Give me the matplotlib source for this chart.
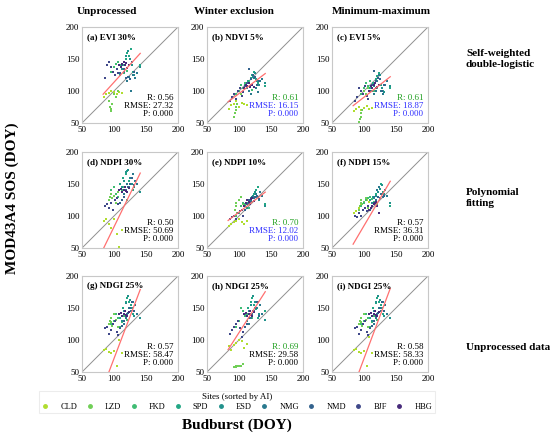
import numpy as np
import matplotlib
matplotlib.use('Agg')
import matplotlib.pyplot as plt
from matplotlib.lines import Line2D

plt.rcParams['font.family'] = ['Liberation Serif', 'DejaVu Serif']

sites = ['CLD', 'LZD', 'FKD', 'SPD', 'ESD', 'NMG', 'NMD', 'BJF', 'HBG']

# observed budburst (DOY), 8 site-years per site, same for every panel
budburst = {
    'CLD': [84, 88, 92, 96, 100, 104, 108, 112],
    'LZD': [92, 94, 95, 96, 97, 100, 103, 106],
    'FKD': [95, 100, 103, 106, 110, 113, 116, 120],
    'SPD': [110, 114, 118, 121, 124, 127, 130, 140],
    'ESD': [112, 116, 119, 122, 125, 128, 131, 141],
    'NMG': [115, 118, 121, 124, 127, 130, 133, 136],
    'NMD': [110, 113, 116, 119, 122, 125, 128, 131],
    'BJF': [86, 89, 92, 95, 98, 101, 104, 107],
    'HBG': [108, 111, 113, 115, 117, 119, 121, 123],
}

# MOD43A4 SOS per panel, site order as in `sites`
sos_a = [90, 95, 97, 100, 98, 96, 99, 97,
         85, 75, 68, 72, 80, 95, 90, 100,
         130, 138, 142, 145, 140, 135, 128, 132,
         125, 140, 150, 160, 155, 165, 130, 140,
         135, 145, 155, 162, 150, 140, 125, 138,
         130, 120, 115, 122, 100, 125, 120, 128,
         128, 140, 135, 120, 122, 118, 145, 130,
         120, 140, 145, 138, 130, 125, 135, 128,
         140, 138, 142, 145, 140, 143, 136, 141]
sos_b = [72, 78, 80, 85, 75, 82, 80, 78,
         60, 65, 70, 75, 80, 100, 95, 105,
         95, 100, 110, 105, 112, 108, 115, 102,
         110, 115, 120, 125, 130, 118, 112, 108,
         105, 112, 118, 122, 128, 115, 110, 112,
         100, 95, 110, 120, 105, 98, 115, 118,
         108, 112, 135, 118, 125, 122, 110, 115,
         85, 90, 95, 88, 100, 105, 92, 98,
         105, 110, 108, 112, 106, 110, 109, 107]
sos_c = [68, 72, 75, 70, 73, 76, 72, 74,
         52, 56, 60, 65, 70, 100, 95, 105,
         95, 105, 112, 108, 115, 110, 100, 105,
         105, 112, 118, 124, 128, 110, 100, 105,
         100, 108, 115, 120, 125, 105, 98, 108,
         95, 100, 115, 125, 100, 95, 110, 115,
         100, 110, 132, 115, 120, 118, 100, 110,
         85, 90, 105, 100, 95, 108, 92, 88,
         100, 108, 105, 110, 112, 104, 107, 109]
sos_d = [92, 95, 88, 82, 95, 72, 52, 78,
         125, 130, 135, 140, 128, 132, 120, 138,
         140, 145, 135, 130, 150, 140, 145, 125,
         150, 160, 165, 170, 155, 160, 140, 138,
         145, 155, 168, 172, 160, 150, 145, 137,
         135, 140, 150, 145, 160, 165, 155, 150,
         120, 125, 130, 140, 145, 150, 160, 148,
         115, 118, 112, 120, 110, 125, 128, 118,
         140, 142, 138, 141, 145, 139, 137, 143]
sos_e = [85, 88, 90, 92, 95, 90, 88, 92,
         100, 110, 115, 120, 105, 125, 130, 118,
         100, 105, 115, 120, 118, 125, 112, 122,
         115, 120, 125, 130, 135, 140, 145, 118,
         112, 118, 128, 132, 138, 130, 125, 115,
         120, 125, 130, 128, 135, 130, 138, 132,
         110, 118, 125, 122, 128, 130, 132, 126,
         95, 98, 100, 96, 105, 108, 110, 100,
         115, 120, 125, 122, 118, 126, 128, 124]
sos_f = [105, 108, 112, 118, 120, 125, 122, 115,
         110, 115, 120, 125, 118, 122, 128, 112,
         115, 120, 125, 128, 130, 126, 122, 118,
         125, 130, 135, 140, 145, 150, 138, 115,
         120, 128, 132, 138, 142, 148, 135, 120,
         130, 125, 140, 145, 135, 130, 140, 132,
         110, 115, 120, 125, 130, 128, 135, 132,
         100, 98, 105, 100, 110, 112, 108, 115,
         110, 112, 115, 118, 120, 122, 116, 105]
sos_g = [84, 86, 82, 80, 83, 60, 100, 80,
         125, 130, 135, 128, 122, 140, 132, 120,
         125, 130, 140, 135, 120, 128, 138, 132,
         135, 150, 160, 165, 160, 155, 140, 135,
         130, 145, 158, 168, 162, 150, 138, 134,
         125, 135, 140, 150, 145, 160, 155, 140,
         118, 122, 130, 138, 142, 150, 160, 145,
         118, 120, 110, 115, 125, 130, 112, 108,
         140, 142, 138, 141, 145, 139, 137, 143]
sos_h = [90, 85, 92, 95, 100, 98, 88, 93,
         58, 58, 59, 58, 59, 60, 60, 62,
         120, 130, 150, 145, 138, 140, 125, 135,
         140, 150, 160, 165, 155, 148, 135, 145,
         130, 145, 155, 168, 160, 150, 140, 132,
         125, 135, 140, 145, 150, 160, 155, 140,
         120, 125, 135, 140, 145, 150, 160, 138,
         110, 115, 120, 125, 130, 118, 105, 112,
         140, 142, 138, 141, 145, 139, 137, 143]
sos_i = [84, 86, 82, 80, 83, 60, 105, 80,
         125, 130, 135, 128, 122, 140, 132, 120,
         125, 130, 140, 135, 120, 128, 138, 132,
         135, 150, 158, 165, 160, 155, 140, 135,
         130, 145, 160, 168, 162, 150, 138, 134,
         125, 135, 140, 150, 145, 160, 155, 140,
         118, 122, 130, 138, 142, 150, 160, 145,
         118, 120, 110, 115, 125, 130, 112, 108,
         140, 142, 138, 141, 145, 139, 137, 143]

panel_titles = ['(a) EVI 30%', '(b) NDVI 5%', '(c) EVI 5%',
                '(d) NDPI 30%', '(e) NDPI 10%', '(f) NDPI 15%',
                '(g) NDGI 25%', '(h) NDGI 25%', '(i) NDGI 25%']
r_vals = [0.56, 0.61, 0.61, 0.50, 0.70, 0.57, 0.57, 0.69, 0.58]
rmse_vals = [27.32, 16.15, 18.87, 50.69, 12.02, 36.31, 58.47, 29.58, 58.33]
p_vals = [0.000] * 9
# linear fit: slope, intercept
fit_slope = [1.10, 0.763, 0.78, 2.05, 0.763, 1.695, 2.63, 1.56, 2.67]
fit_intercept = [3.7, 19.7, 12.3, -122.0, 29.7, -84.7, -192.0, -44.5, -196.0]
# which stats are highlighted (best in row)
best_r = [False, True, True, False, True, False, False, True, False]
best_rmse = [False, True, True, False, True, False, False, False, False]

col_titles = ['Unprocessed', 'Winter exclusion', 'Minimum-maximum']
row_titles = ['Self-weighted\ndouble-logistic', 'Polynomial\nfitting', 'Unprocessed data']

all_sos = [sos_a, sos_b, sos_c, sos_d, sos_e, sos_f, sos_g, sos_h, sos_i]
colors = plt.cm.viridis(np.linspace(0.88, 0.12, len(sites)))
x_all = np.concatenate([budburst[s] for s in sites])
c_all = np.repeat(np.arange(len(sites)), 8)

fig = plt.figure(figsize=(5.5, 4.4), dpi=100)
lefts = [82, 207, 332]
tops = [27, 152, 276]
W, H = 550.0, 440.0
green = '#22a022'
blue = '#3030ff'

for k in range(9):
    r, c = divmod(k, 3)
    ax = fig.add_axes([lefts[c] / W, 1 - (tops[r] + 96) / H, 96 / W, 96 / H])
    ax.plot([50, 200], [50, 200], color='#909090', lw=0.7, zorder=1)
    ax.scatter(x_all, all_sos[k], c=colors[c_all], s=2, marker='s',
               linewidths=0, zorder=2)
    fx = np.array([83, 141])
    ax.plot(fx, fit_slope[k] * fx + fit_intercept[k], color='#ff7070',
            lw=0.9, zorder=3)
    ax.set_xlim(50, 200)
    ax.set_ylim(50, 200)
    ax.set_xticks([50, 100, 150, 200])
    ax.set_yticks([50, 100, 150, 200])
    ax.tick_params(length=0, pad=2, labelsize=6.5)
    for sp in ax.spines.values():
        sp.set_color('#c8c8c8')
        sp.set_linewidth(0.8)
    ax.text(0.05, 0.94, panel_titles[k], transform=ax.transAxes, fontsize=6.5,
            fontweight='bold', va='top', ha='left')
    ax.text(0.95, 0.26, 'R: %.2f' % r_vals[k], transform=ax.transAxes,
            fontsize=6.5, ha='right', va='center',
            color=green if best_r[k] else 'black')
    ax.text(0.95, 0.175, 'RMSE: %.2f' % rmse_vals[k], transform=ax.transAxes,
            fontsize=6.5, ha='right', va='center',
            color=blue if best_rmse[k] else 'black')
    ax.text(0.95, 0.09, 'P: %.3f' % p_vals[k], transform=ax.transAxes,
            fontsize=6.5, ha='right', va='center',
            color=blue if best_rmse[k] else 'black')

for x, t in zip([107, 234, 381], col_titles):
    fig.text(x / W, 1 - 11 / H, t, fontsize=8, fontweight='bold',
             ha='center', va='center')
for y, t in zip([59, 198, 347], row_titles):
    fig.text(466 / W, 1 - y / H, t, fontsize=8, fontweight='bold',
             ha='left', va='center', linespacing=1.3)

fig.text(12 / W, 1 - 198 / H, 'MOD43A4 SOS (DOY)', rotation=90, fontsize=11,
         fontweight='bold', ha='center', va='center')
fig.text(237 / W, 1 - 425 / H, 'Budburst (DOY)', fontsize=11,
         fontweight='bold', ha='center', va='center')

handles = [Line2D([], [], marker='o', ls='', color=colors[i], markersize=2.5)
           for i in range(len(sites))]
leg = fig.legend(handles, sites, loc='center', bbox_to_anchor=(237 / W, 1 - 402 / H),
                 ncol=9, fontsize=6, title='Sites (sorted by AI)', title_fontsize=6.5,
                 frameon=True, fancybox=False, handlelength=0.8, handletextpad=1.4,
                 columnspacing=1.1, borderpad=0.3, labelspacing=0.2,
                 borderaxespad=0)
leg.get_frame().set_edgecolor('#e8e8e8')
leg.get_frame().set_linewidth(0.8)

fig.savefig('out.png', dpi=100)
